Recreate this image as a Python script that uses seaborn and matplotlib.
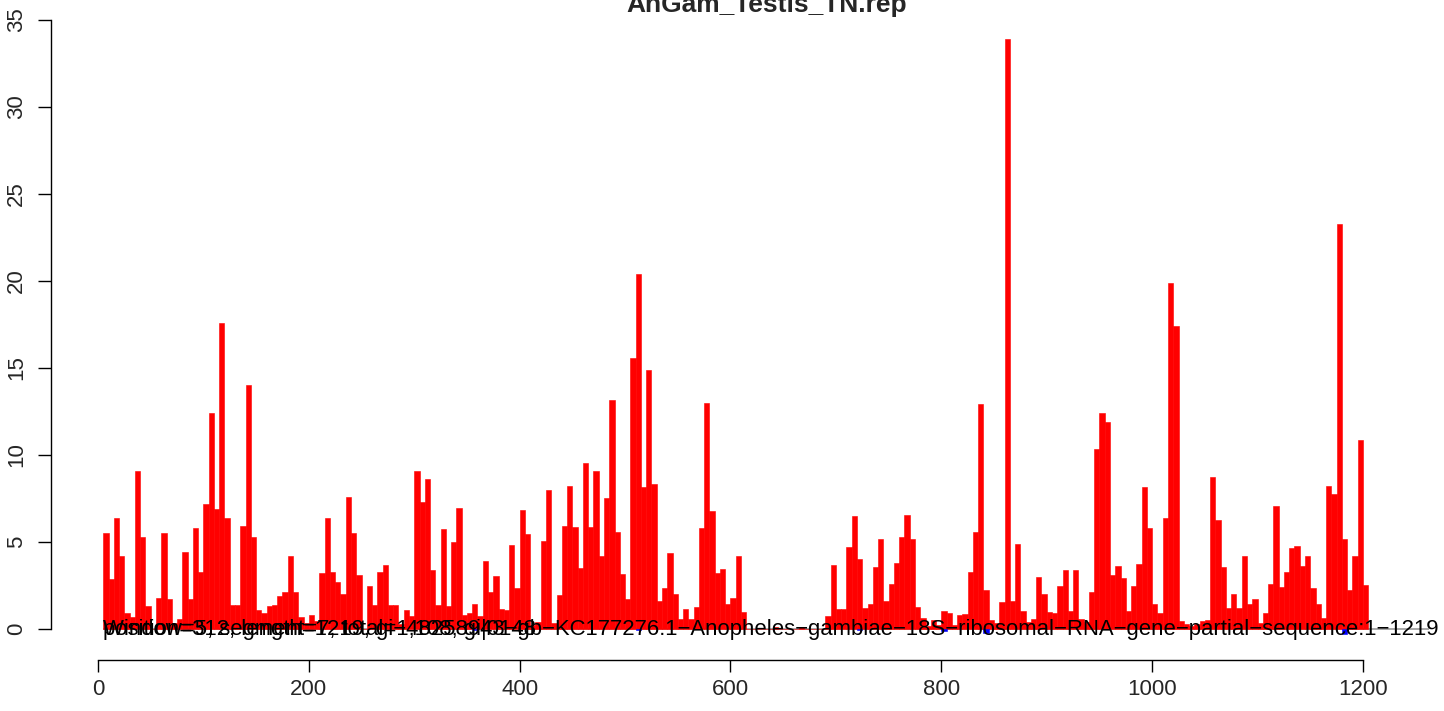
import numpy as np
import pandas as pd
import matplotlib
matplotlib.use("Agg")
import matplotlib.pyplot as plt
import seaborn as sns

# window start positions (step 5) and plus-strand read counts per window
window = 5
plus_counts = [
    5.5, 2.9, 6.4, 4.2, 0.9, 0.7, 9.1, 5.3, 1.3, 0.0,
    1.8, 5.5, 1.7, 0.35, 0.6, 4.4, 1.7, 5.8, 3.3, 7.2,
    12.4, 6.9, 17.6, 6.4, 1.4, 1.4, 5.9, 14.0, 5.3, 1.1,
    0.9, 1.3, 1.4, 1.9, 2.1, 4.2, 2.1, 0.7, 0.35, 0.8,
    0.45, 3.2, 6.4, 3.3, 2.7, 2.0, 7.6, 5.5, 3.1, 0.0,
    2.5, 1.4, 3.3, 3.7, 1.4, 1.4, 0.3, 1.1, 0.75, 9.1,
    7.3, 8.6, 3.4, 1.4, 5.75, 1.3, 5.0, 6.95, 0.8, 0.9,
    1.45, 0.75, 3.9, 2.1, 3.05, 1.15, 1.1, 4.8, 2.35, 6.85,
    5.45, 0.25, 0.4, 5.05, 8.0, 0.35, 1.95, 5.9, 8.2, 5.85,
    3.5, 9.55, 5.85, 9.1, 4.2, 7.55, 13.15, 5.55, 3.15, 1.7,
    15.55, 20.4, 8.15, 14.9, 8.35, 1.6, 2.35, 4.35, 2.0, 0.55,
    1.15, 0.6, 1.25, 5.8, 13.0, 6.8, 3.2, 3.45, 1.45, 1.8,
    4.2, 1.0, 0.0, 0.0, 0.0, 0.0, 0.0, 0.1, 0.0, 0.0,
    0.0, 0.0, 0.1, 0.0, 0.0, 0.0, 0.0, 0.75, 3.7, 1.15,
    1.15, 4.7, 6.5, 4.0, 1.2, 1.45, 3.55, 5.15, 1.6, 2.6,
    3.8, 5.3, 6.55, 5.15, 1.25, 0.65, 0.15, 0.5, 0.25, 1.05,
    0.9, 0.25, 0.8, 0.85, 3.3, 5.55, 12.95, 2.25, 0.5, 0.35,
    1.55, 33.9, 1.6, 4.9, 1.05, 0.4, 0.55, 3.0, 2.0, 0.95,
    0.9, 2.5, 3.4, 1.05, 3.4, 0.6, 0.4, 2.15, 10.35, 12.4,
    11.9, 3.1, 3.6, 2.95, 1.05, 2.5, 3.75, 8.15, 5.8, 1.45,
    0.9, 6.4, 19.9, 17.4, 0.45, 0.3, 0.15, 0.3, 0.45, 0.5,
    8.75, 6.25, 3.55, 1.2, 2.0, 1.2, 4.2, 1.45, 1.7, 0.35,
    0.9, 2.6, 7.05, 2.4, 3.3, 4.65, 4.75, 3.6, 4.2, 2.35,
    1.45, 0.65, 8.2, 7.75, 23.3, 5.2, 2.25, 4.2, 10.85, 2.55,
]
positions = np.arange(window, window * (len(plus_counts) + 1), window)

# minus-strand (tiny, drawn below zero in blue)
minus_pos = [355, 510, 720, 800, 840, 1180]
minus_counts = [-0.05, -0.05, -0.05, -0.1, -0.25, -0.3]

title = "AnGam_Testis_TN.rep"
label_main = ("position=312, length=1219, gi\u221248258943\u2212gb\u2212KC177276.1\u2212Anopheles\u2212gambiae\u2212"
              "18S\u2212ribosomal\u2212RNA\u2212gene\u2212partial\u2212sequence:1\u22121219")
label_extra = "Window=5, segment=7, total=1,108, gi|0148"

df = pd.concat([
    pd.DataFrame({"pos": positions + window / 2, "count": plus_counts, "strand": "plus"}),
    pd.DataFrame({"pos": np.array(minus_pos) + window / 2, "count": minus_counts, "strand": "minus"}),
], ignore_index=True)

sns.set_style("white")
plt.rcParams["font.family"] = ["Liberation Sans", "DejaVu Sans"]

fig = plt.figure(figsize=(14.44, 7.11), dpi=100)
W, H = 1444, 711
left, right, top, bottom = 51, 1434, 15, 660
ax = fig.add_axes([left / W, (H - bottom) / H, (right - left) / W, (bottom - top) / H])

sns.barplot(data=df, x="pos", y="count", hue="strand", native_scale=True, dodge=False,
            palette={"plus": "#ff0000", "minus": "#0000ff"}, saturation=1, width=1,
            errorbar=None, linewidth=0.4, legend=False, ax=ax)
for p in ax.patches:
    p.set_edgecolor(p.get_facecolor())

ax.hlines(0, 5, 1263, color="#999999", linewidth=1.2, zorder=0.5)

# x/y mapping matched to the reference pixels
px_per_x = (1363 - 98) / 1200
px_per_y = (629 - 20) / 35
ax.set_xlim(-(98 - left) / px_per_x, (right - 98) / px_per_x)
ax.set_ylim(-(bottom - 629) / px_per_y, (629 - top) / px_per_y)

for s in ["top", "right"]:
    ax.spines[s].set_visible(False)
ax.spines["bottom"].set_bounds(0, 1200)
ax.spines["left"].set_bounds(0, 35)
for s in ["bottom", "left"]:
    ax.spines[s].set_color("black")
    ax.spines[s].set_linewidth(1)

ax.set_xticks(range(0, 1201, 200))
ax.set_xticklabels([str(v) for v in range(0, 1201, 200)])
ax.set_yticks(range(0, 36, 5))
ax.set_yticklabels([str(v) for v in range(0, 36, 5)])
ax.tick_params(axis="x", length=8.6, width=1, direction="out", color="black",
               labelsize=16, pad=5, bottom=True)
ax.tick_params(axis="y", length=9.4, width=1, direction="out", color="black",
               labelsize=16, pad=8, left=True)
for lab in ax.get_yticklabels():
    lab.set_rotation(90)
    lab.set_va("center")
ax.set_xlabel("")
ax.set_ylabel("")

ax.text(5, 0, label_main, fontsize=15.9, va="center", ha="left", color="black", zorder=5)
ax.text(5, 0, label_extra, fontsize=15.9, va="center", ha="left", color="black", zorder=5)

fig.text(767 / W, 1 - 12 / H, title, fontsize=19, fontweight="bold", ha="center", va="baseline")

fig.savefig("out.png", dpi=100)
